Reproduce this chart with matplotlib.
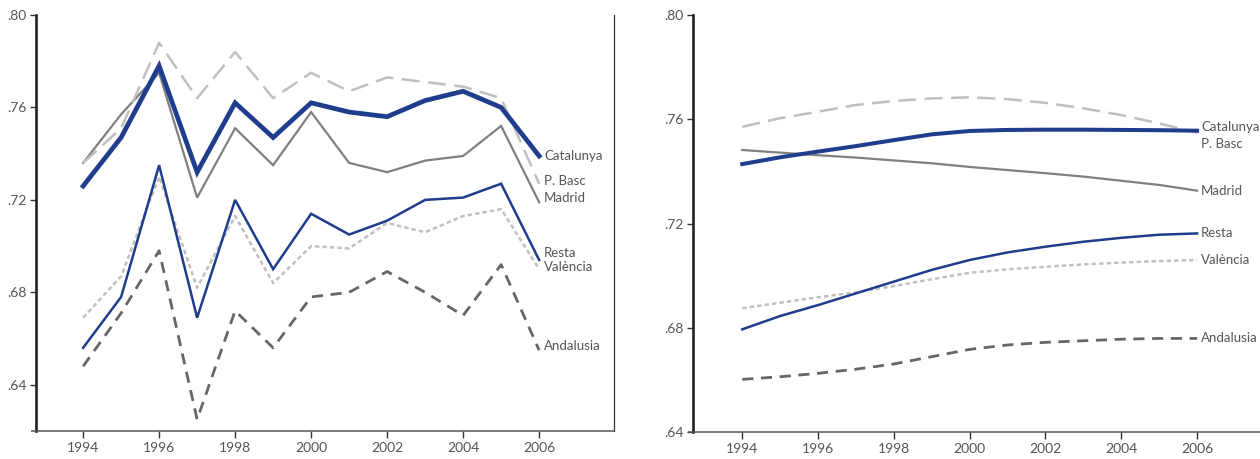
import matplotlib
matplotlib.use("Agg")
import matplotlib.pyplot as plt
from matplotlib.ticker import FixedLocator, FixedFormatter

plt.rcParams["font.family"] = ["Lato", "DejaVu Sans"]
plt.rcParams["lines.scale_dashes"] = False

years = list(range(1994, 2007))
regions = ["Catalunya", "P. Basc", "Madrid", "Resta", "València", "Andalusia"]

# observed series (left panel)
obs_catalunya = [0.726, 0.747, 0.778, 0.732, 0.762, 0.747, 0.762, 0.758, 0.756, 0.763, 0.767, 0.760, 0.739]
obs_pbasc = [0.736, 0.751, 0.788, 0.764, 0.784, 0.764, 0.775, 0.767, 0.773, 0.771, 0.769, 0.764, 0.727]
obs_madrid = [0.736, 0.757, 0.775, 0.721, 0.751, 0.735, 0.758, 0.736, 0.732, 0.737, 0.739, 0.752, 0.719]
obs_resta = [0.656, 0.678, 0.735, 0.669, 0.720, 0.690, 0.714, 0.705, 0.711, 0.720, 0.721, 0.727, 0.694]
obs_valencia = [0.669, 0.687, 0.730, 0.682, 0.713, 0.684, 0.700, 0.699, 0.710, 0.706, 0.713, 0.716, 0.690]
obs_andalusia = [0.648, 0.671, 0.698, 0.625, 0.672, 0.656, 0.678, 0.680, 0.689, 0.680, 0.670, 0.692, 0.655]

# smoothed trends (right panel)
fit_catalunya = [0.7428, 0.7454, 0.7476, 0.7497, 0.7520, 0.7542, 0.7555, 0.7559, 0.7560, 0.7560, 0.7559, 0.7558, 0.7556]
fit_pbasc = [0.7571, 0.7604, 0.7629, 0.7655, 0.7670, 0.7680, 0.7684, 0.7677, 0.7663, 0.7642, 0.7616, 0.7584, 0.7548]
fit_madrid = [0.7482, 0.7472, 0.7462, 0.7453, 0.7442, 0.7431, 0.7417, 0.7405, 0.7393, 0.7380, 0.7364, 0.7348, 0.7326]
fit_resta = [0.6794, 0.6845, 0.6887, 0.6932, 0.6977, 0.7022, 0.7060, 0.7089, 0.7111, 0.7130, 0.7145, 0.7157, 0.7162]
fit_valencia = [0.6875, 0.6896, 0.6917, 0.6936, 0.6960, 0.6986, 0.7011, 0.7024, 0.7034, 0.7043, 0.7050, 0.7056, 0.7060]
fit_andalusia = [0.6602, 0.6612, 0.6625, 0.6641, 0.6661, 0.6689, 0.6717, 0.6734, 0.6744, 0.6750, 0.6756, 0.6759, 0.6759]

ytick_vals = [0.64, 0.68, 0.72, 0.76, 0.80]
ytick_labels = [".64", ".68", ".72", ".76", ".80"]
xtick_vals = [1994, 1996, 1998, 2000, 2002, 2004, 2006]

blue = "#1f3d8c"
light = "#c0c0c0"
mid = "#808080"
dark = "#666666"
txt = "#555555"

styles = {
    "Catalunya": dict(color=blue, lw=3.4, ls="-"),
    "P. Basc": dict(color=light, lw=1.8, ls=(0, (13, 6))),
    "Madrid": dict(color=mid, lw=1.6, ls="-"),
    "Resta": dict(color=blue, lw=1.8, ls="-"),
    "València": dict(color=light, lw=1.8, ls=(0, (3.2, 2.2))),
    "Andalusia": dict(color=dark, lw=2.0, ls=(0, (8, 5.5))),
}

# label nudges in pixels (y)
left_nudge = {"Catalunya": 0, "P. Basc": 3, "Madrid": 4, "Resta": 7, "València": 2, "Andalusia": 4}
right_nudge = {"Catalunya": 4, "P. Basc": -11, "Madrid": 0, "Resta": 0, "València": 0, "Andalusia": 0}

fig = plt.figure(figsize=(12.6, 4.59), dpi=100)
ax1 = fig.add_axes([36 / 1260, 28 / 459, 578 / 1260, 416 / 459])
ax2 = fig.add_axes([693 / 1260, 27 / 459, 567 / 1260, 417 / 459])


def style_axis(ax, ylim, xlim, right_spine):
    ax.set_xlim(*xlim)
    ax.set_ylim(*ylim)
    ax.spines["top"].set_visible(False)
    ax.spines["right"].set_visible(right_spine)
    ax.spines["right"].set_color("#333333")
    ax.spines["right"].set_linewidth(0.9)
    ax.spines["left"].set_color("#222222")
    ax.spines["left"].set_linewidth(1.9)
    ax.spines["bottom"].set_color("#555555")
    ax.spines["bottom"].set_linewidth(1.1)
    # bottom line runs a little past the y axis
    ax.plot([-0.009, 0], [0, 0], transform=ax.transAxes, color="#555555",
            lw=1.1, clip_on=False, solid_capstyle="butt")
    ax.yaxis.set_major_locator(FixedLocator(ytick_vals))
    ax.yaxis.set_major_formatter(FixedFormatter(ytick_labels))
    ax.xaxis.set_major_locator(FixedLocator(xtick_vals))
    ax.tick_params(axis="y", length=4, width=1.0, color="#333333", pad=3,
                   labelsize=10, labelcolor=txt)
    ax.tick_params(axis="x", length=5, width=1.0, color="#333333", pad=3,
                   labelsize=10, labelcolor=txt)


style_axis(ax1, (0.62, 0.80), (1992.76, 2007.97), True)
style_axis(ax2, (0.64, 0.80), (1992.7, 2007.66), False)

obs = [obs_catalunya, obs_pbasc, obs_madrid, obs_resta, obs_valencia, obs_andalusia]
fit = [fit_catalunya, fit_pbasc, fit_madrid, fit_resta, fit_valencia, fit_andalusia]

draw_order = [5, 4, 3, 2, 1, 0]
for i in draw_order:
    name = regions[i]
    st = styles[name]
    ax1.plot(years, obs[i], color=st["color"], lw=st["lw"], ls=st["ls"],
             solid_joinstyle="miter", dash_capstyle="butt")
    lw2 = st["lw"] * (0.85 if name == "Catalunya" else 1.0)
    ax2.plot(years, fit[i], color=st["color"], lw=lw2, ls=st["ls"],
             dash_capstyle="butt")

for i, name in enumerate(regions):
    ax1.annotate(name, (years[-1], obs[i][-1]), xytext=(5, left_nudge[name]),
                 textcoords="offset pixels", ha="left", va="center",
                 fontsize=9.5, color=txt)
    ax2.annotate(name, (years[-1], fit[i][-1]), xytext=(4, right_nudge[name]),
                 textcoords="offset pixels", ha="left", va="center",
                 fontsize=9.5, color=txt, annotation_clip=False)

fig.savefig("out.png", dpi=100)
